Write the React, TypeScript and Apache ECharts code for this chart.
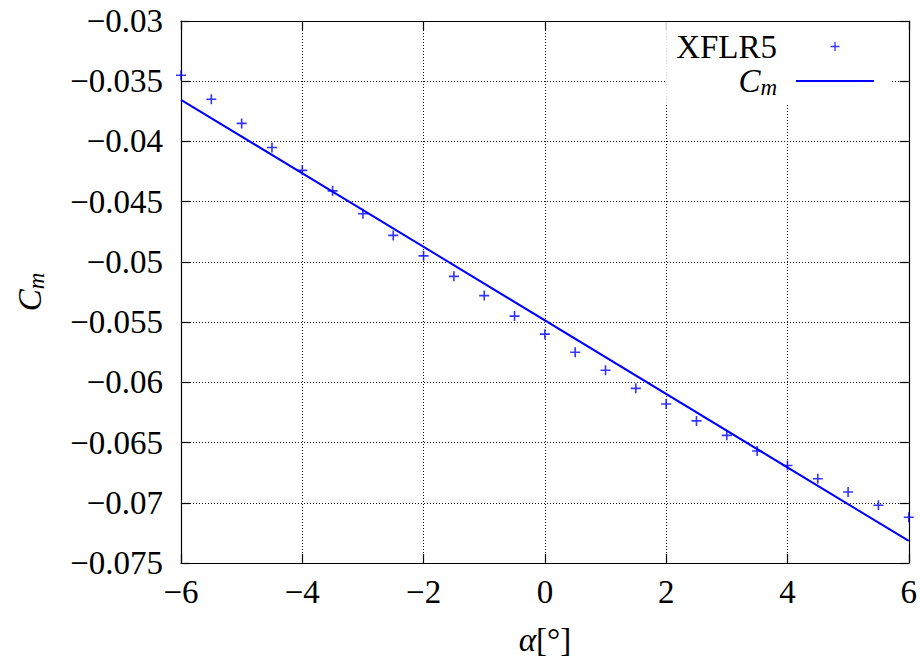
import React, { useEffect, useRef } from "react";
import * as echarts from "echarts";

// Angle of attack [deg] for the XFLR5 points
const alphaXflr5 = [-6, -5.5, -5, -4.5, -4, -3.5, -3, -2.5, -2, -1.5, -1, -0.5, 0, 0.5, 1, 1.5, 2, 2.5, 3, 3.5, 4, 4.5, 5, 5.5, 6];
const cmXflr5 = [-0.0345, -0.0365, -0.0385, -0.0405, -0.0424, -0.0441, -0.0460, -0.0478, -0.0495, -0.0512, -0.0528, -0.0545, -0.0560, -0.0575, -0.0590, -0.0605, -0.0618, -0.0632, -0.0644, -0.0657, -0.0669, -0.0680, -0.0691, -0.0702, -0.0712];
// Linear Cm model (line end points)
const alphaLine = [-6, 6];
const cmLine = [-0.03654, -0.07317];

const FONT = "Liberation Serif";
const FS = 33;
const BLUE = "#0000ff";

const plusPath = "path://M4.2,0H5.8V4.2H10V5.8H5.8V10H4.2V5.8H0V4.2H4.2Z";
const legendPlusSvg =
  '<svg xmlns="http://www.w3.org/2000/svg" width="78" height="14" viewBox="0 0 78 14"><path d="M34.5,7H43.5M39,2.5V11.5" stroke="#0000ff" stroke-width="1.3" fill="none"/></svg>';
const legendPlusIcon = "image://data:image/svg+xml;charset=utf-8," + encodeURIComponent(legendPlusSvg);
const legendLineIcon = "path://M0,0H78V2.2H0Z";

const fmtNum = (v: number, digits: number) => {
  const s = parseFloat(Math.abs(v).toFixed(digits)).toString();
  return v < 0 ? "\u2212" + s : s;
};

const cmRich = {
  c: { fontFamily: FONT, fontSize: FS, fontStyle: "italic", color: "#000", lineHeight: 29 },
  s: { fontFamily: FONT, fontSize: 23, fontStyle: "italic", color: "#000", lineHeight: 29, padding: [13, 0, 0, 0] },
};

const labelStyle = { fontFamily: FONT, fontSize: FS, color: "#000", fontWeight: "normal", fontStyle: "normal" };

export default function App() {
  const ref = useRef<HTMLDivElement>(null);
  useEffect(() => {
    if (!ref.current) return;
    const chart = echarts.init(ref.current, undefined, { renderer: "svg" });
    const axisLineStyle = { color: "#000", width: 1.2 };
    chart.setOption({
      animation: false,
      backgroundColor: "#fff",
      textStyle: { fontFamily: FONT, fontSize: FS, color: "#000" },
      grid: { left: 181, right: 10, top: 21, bottom: 97, containLabel: false },
      legend: {
        orient: "vertical",
        align: "right",
        right: 28,
        top: 22,
        padding: [8, 18, 5, 10],
        itemGap: 0,
        itemWidth: 78,
        itemHeight: 14,
        backgroundColor: "#fff",
        data: [
          { name: "XFLR5", icon: legendPlusIcon },
          { name: "Cm", icon: legendLineIcon, itemStyle: { color: BLUE } },
        ],
        formatter: (name: string) => (name === "Cm" ? "{c|C}{s|m}" : name),
        textStyle: {
          fontFamily: FONT,
          fontSize: FS,
          color: "#000",
          lineHeight: 29,
          padding: [0, 14, 0, 0],
          rich: cmRich,
        },
      },
      xAxis: [
        {
          type: "value",
          min: -6,
          max: 6,
          interval: 2,
          position: "bottom",
          name: "{a|\u03b1}[\u00b0]",
          nameLocation: "middle",
          nameGap: 60,
          nameTextStyle: {
            ...labelStyle,
            rich: { a: { fontFamily: FONT, fontSize: FS, fontStyle: "italic", color: "#000" } },
          },
          axisLine: { show: true, onZero: false, lineStyle: axisLineStyle },
          axisTick: { show: true, inside: true, length: 9, lineStyle: axisLineStyle },
          axisLabel: {
            margin: 12,
            ...labelStyle,
            formatter: (v: number) => fmtNum(v, 2),
          },
          splitLine: { show: true, lineStyle: { color: "#111", width: 1, type: [1, 2] } },
        },
        {
          type: "value",
          min: -6,
          max: 6,
          interval: 2,
          position: "top",
          axisLine: { show: true, onZero: false, lineStyle: axisLineStyle },
          axisTick: { show: true, inside: true, length: 9, lineStyle: axisLineStyle },
          axisLabel: { show: false },
          splitLine: { show: false },
        },
      ],
      yAxis: [
        {
          type: "value",
          min: -0.075,
          max: -0.03,
          interval: 0.005,
          position: "left",
          name: "{c|C}{s|m}",
          nameLocation: "middle",
          nameRotate: 90,
          nameGap: 137,
          nameTextStyle: { ...labelStyle, rich: cmRich },
          axisLine: { show: true, onZero: false, lineStyle: axisLineStyle },
          axisTick: { show: true, inside: true, length: 9, lineStyle: axisLineStyle },
          axisLabel: {
            margin: 18,
            ...labelStyle,
            formatter: (v: number) => fmtNum(v, 4),
          },
          splitLine: { show: true, lineStyle: { color: "#111", width: 1, type: [1, 2] } },
        },
        {
          type: "value",
          min: -0.075,
          max: -0.03,
          interval: 0.005,
          position: "right",
          axisLine: { show: true, onZero: false, lineStyle: axisLineStyle },
          axisTick: { show: true, inside: true, length: 9, lineStyle: axisLineStyle },
          axisLabel: { show: false },
          splitLine: { show: false },
        },
      ],
      series: [
        {
          name: "XFLR5",
          type: "scatter",
          xAxisIndex: 0,
          yAxisIndex: 0,
          symbol: plusPath,
          symbolSize: 10,
          itemStyle: { color: BLUE },
          data: alphaXflr5.map((a, i) => [a, cmXflr5[i]]),
          z: 3,
        },
        {
          name: "Cm",
          type: "line",
          xAxisIndex: 0,
          yAxisIndex: 0,
          showSymbol: false,
          symbol: "none",
          lineStyle: { color: BLUE, width: 2 },
          itemStyle: { color: BLUE },
          data: alphaLine.map((a, i) => [a, cmLine[i]]),
          z: 2,
        },
      ],
    });
    return () => chart.dispose();
  }, []);
  return <div ref={ref} style={{ width: 920, height: 661, position: "absolute", left: 0, top: 0 }} />;
}
